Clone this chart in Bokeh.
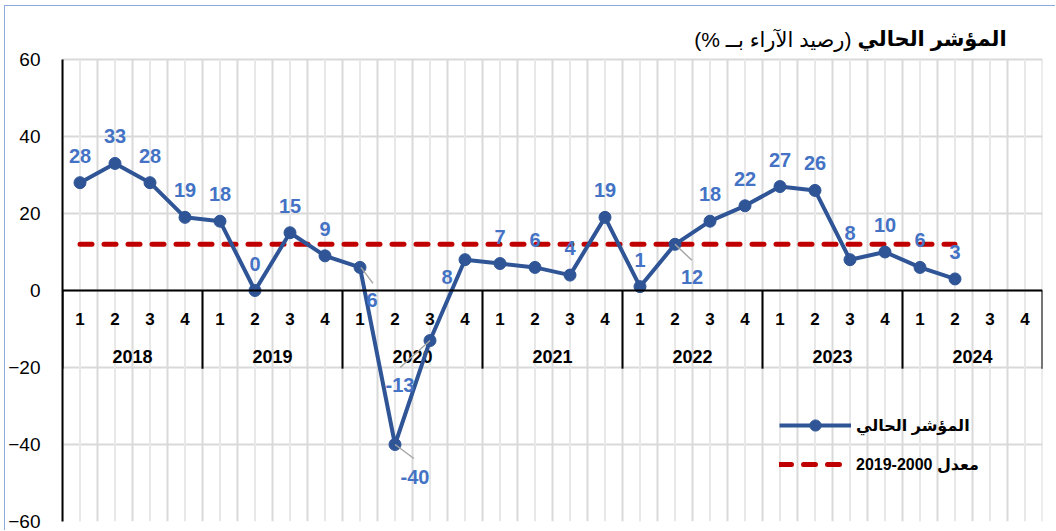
from bokeh.plotting import figure
from bokeh.models import Range1d, FixedTicker, Legend, LegendItem, Span
from bokeh.core.properties import value
from bokeh.embed import file_html
from bokeh.resources import INLINE

# ---------------- data ----------------
years = ["2018", "2019", "2020", "2021", "2022", "2023", "2024"]
quarters = ["1", "2", "3", "4"]
current_index = [28, 33, 28, 19,
                 18, 0, 15, 9,
                 6, -40, -13, 8,
                 7, 6, 4, 19,
                 1, 12, 18, 22,
                 27, 26, 8, 10,
                 6, 3]
average_2000_2019 = 12
y_ticks = [-60, -40, -20, 0, 20, 40, 60]
title_bold = "المؤشر الحالي"
title_normal = "\u200f(رصيد الآراء بــ %)\u200f"
legend_current = "المؤشر الحالي"
legend_avg = "معدل 2000-2019"

# ---------------- styles ----------------
BLUE = "#2F5597"
LABEL_BLUE = "#4472C4"
RED = "#C00000"
GRID = "#D9D9D9"
GRID_LIGHT = "#E8E8E8"
FONT = "Liberation Sans, DejaVu Sans"

n_cat = len(years) * len(quarters)
xs = list(range(len(current_index)))
y_min, y_max = y_ticks[0], y_ticks[-1]

W, H = 1051, 525
BL, BR, BT, BB = 52, 14, 0, 10
frame_w, frame_h = W - BL - BR, H - BT - BB
px_x = frame_w / n_cat                 # pixels per category
px_y = 462 / (y_max - y_min)           # pixels per unit (axis span is 462 px)
y_top = y_min + frame_h / px_y         # extra room above 60 for the title
X0 = 61                                # reference x of the frame's left edge

def ref_x(px):
    return (px - X0) / px_x - 0.5

p = figure(width=W, height=H, x_range=Range1d(-0.5, n_cat - 0.5), y_range=Range1d(y_min, y_top),
           output_backend="svg", toolbar_location=None,
           min_border_left=BL, min_border_right=BR, min_border_top=BT, min_border_bottom=BB)
p.outline_line_color = None
p.background_fill_color = "white"
p.styles = {"margin-left": "4px", "margin-top": "5px",
            "border-left": "1px solid #8FAADC", "border-top": "1px solid #8FAADC"}

# axes
p.xaxis.visible = False
p.yaxis.ticker = FixedTicker(ticks=y_ticks)
p.yaxis.bounds = (y_min, y_max)
p.yaxis.axis_line_color = "black"
p.yaxis.axis_line_width = 2
p.yaxis.major_tick_line_color = None
p.yaxis.minor_tick_line_color = None
p.yaxis.major_label_text_font = FONT
p.yaxis.major_label_text_font_size = "19px"
p.yaxis.major_label_text_color = "black"
p.yaxis.major_label_standoff = 16

# grids
p.xgrid.visible = False
p.ygrid.ticker = FixedTicker(ticks=y_ticks)
p.ygrid.grid_line_color = GRID
p.ygrid.grid_line_width = 2
centers = list(range(n_cat))
bounds = [i - 0.5 for i in range(n_cat + 1)]
p.segment(x0=centers, y0=[y_min] * len(centers), x1=centers, y1=[y_max] * len(centers),
          line_color=GRID_LIGHT, line_width=2)
p.segment(x0=bounds, y0=[y_min] * len(bounds), x1=bounds, y1=[y_max] * len(bounds),
          line_color=GRID, line_width=2)

# category axis drawn at zero
p.add_layout(Span(location=0, dimension="width", line_color="black", line_width=2))
sep_x = [4 * i - 0.5 for i in range(len(years) + 1)]
sep_depth = -20.3
p.segment(x0=sep_x, y0=[0] * len(sep_x), x1=sep_x, y1=[sep_depth] * len(sep_x),
          line_color="black", line_width=2)
p.text(x=centers, y=[-7.3] * n_cat, text=quarters * len(years),
       text_align="center", text_baseline="middle", text_color="black",
       text_font=value(FONT), text_font_style="bold", text_font_size="17px")
p.text(x=[4 * i + 1.5 for i in range(len(years))], y=[-17.1] * len(years), text=years,
       text_align="center", text_baseline="middle", text_color="black",
       text_font=value(FONT), text_font_style="bold", text_font_size="18px")

# series
r_avg = p.line(xs, [average_2000_2019] * len(xs), line_color=RED, line_width=5,
               line_dash="12 12", line_cap="round")
r_line = p.line(xs, current_index, line_color=BLUE, line_width=4)
r_pts = p.scatter(xs, current_index, size=12, fill_color=BLUE, line_color=BLUE)

# data labels (pixel offsets, y down)
special = {8: (12, 33), 9: (20, 32), 10: (-30, 44), 11: (-18, 17), 17: (17, 33)}
leaders = {8: (1, 0, 13, 16), 9: (0, 0, 19, 14), 10: (0, 0, -30, 27), 17: (0, 0, 17, 16)}
xo = [special.get(i, (0, -27))[0] for i in xs]
yo = [special.get(i, (0, -27))[1] for i in xs]
p.text(x=xs, y=current_index, text=[str(v) for v in current_index], x_offset=xo, y_offset=yo,
       text_align="center", text_baseline="middle", text_color=LABEL_BLUE,
       text_font=value(FONT), text_font_style="bold", text_font_size="20px")
lx0, ly0, lx1, ly1 = [], [], [], []
for i, (a, b, c, d) in leaders.items():
    lx0.append(xs[i] + a / px_x)
    ly0.append(current_index[i] - b / px_y)
    lx1.append(xs[i] + c / px_x)
    ly1.append(current_index[i] - d / px_y)
p.segment(x0=lx0, y0=ly0, x1=lx1, y1=ly1, line_color="#A6A6A6", line_width=1.5)

# title (inside the frame, above the 60 gridline)
title_y = y_max + 21 / px_y
p.text(x=[ref_x(1010)], y=[title_y], text=[title_bold],
       text_align="right", text_baseline="middle", text_color="black",
       text_font=value(FONT), text_font_style="bold", text_font_size="21px")
p.text(x=[ref_x(854)], y=[title_y - 1 / px_y], text=[title_normal],
       text_align="right", text_baseline="middle", text_color="black",
       text_font=value(FONT), text_font_style="normal", text_font_size="21px")

# legend
legend = Legend(items=[LegendItem(label=legend_current, renderers=[r_line, r_pts]),
                       LegendItem(label=legend_avg, renderers=[r_avg])],
                location=(717, 43), glyph_width=72, glyph_height=28, label_standoff=5,
                spacing=11, padding=0, margin=0, border_line_color=None,
                background_fill_alpha=0, label_text_font=FONT, label_text_font_style="bold",
                label_text_font_size="16px", label_text_color="black")
p.add_layout(legend)

open("out.html", "w").write(file_html(p, INLINE))
